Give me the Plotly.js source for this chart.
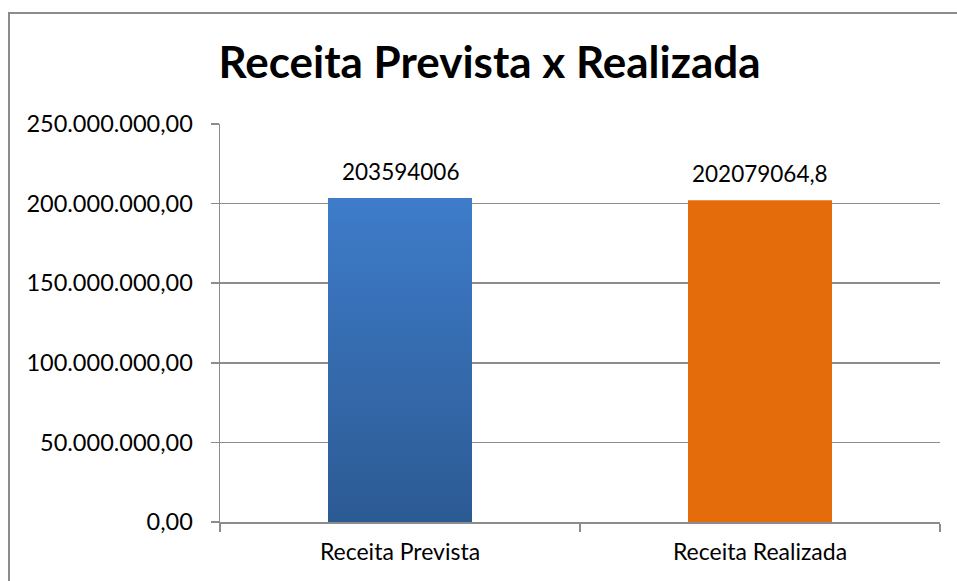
<!DOCTYPE html>
<html>
<head>
<meta charset="utf-8">
<script src="https://cdn.plot.ly/plotly-3.0.1.min.js"></script>
<style>
  html, body { margin: 0; padding: 0; background: #ffffff; }
  #chart { width: 957px; height: 581px; }
</style>
</head>
<body>
<div id="chart"></div>
<script>
// ---- Data ----
const categories = ["Receita Prevista", "Receita Realizada"];
const values = [203594006, 202079064.8];
const valueLabels = ["203594006", "202079064,8"];
const yTickValues = [0, 50000000, 100000000, 150000000, 200000000, 250000000];
const titleText = "Receita Prevista x Realizada";

// ---- Styles ----
const FONT = "Lato, 'Open Sans', sans-serif";
const GRID = "#8c8c8c";
const barColors = ["#3a74bd", "#e46c0a"];

const trace = {
  type: "bar",
  x: categories,
  y: values,
  marker: { color: barColors, line: { width: 0 } },
  width: 0.4,
  hoverinfo: "none",
  cliponaxis: false
};

const annotations = categories.map((c, i) => ({
  x: c, y: values[i], xref: "x", yref: "y",
  text: valueLabels[i], showarrow: false,
  yanchor: "bottom", yshift: 11,
  font: { family: FONT, size: 22.5, color: "#000000" }
}));

const layout = {
  width: 957, height: 581,
  margin: { l: 220, r: 17, t: 124, b: 59, pad: 0 },
  paper_bgcolor: "#ffffff",
  plot_bgcolor: "#ffffff",
  separators: ",.",
  showlegend: false,
  title: {
    text: titleText,
    font: { family: FONT, size: 44, color: "#000000", weight: "bold" },
    x: 489.5 / 957, xref: "container", xanchor: "center",
    y: 1 - 63 / 581, yref: "container", yanchor: "middle"
  },
  xaxis: {
    type: "category",
    showgrid: false,
    showline: true, linecolor: GRID, linewidth: 1.5,
    ticks: "outside", tickson: "boundaries", ticklen: 8, tickcolor: GRID, tickwidth: 1.5,
    ticklabelstandoff: 9,
    tickfont: { family: FONT, size: 23, color: "#000000" },
    fixedrange: true
  },
  yaxis: {
    range: [0, 250000000],
    tickvals: yTickValues,
    tickformat: ",.2f",
    showgrid: true, gridcolor: GRID, gridwidth: 1.5,
    showline: true, linecolor: GRID, linewidth: 1.5,
    zeroline: false,
    ticks: "outside", ticklen: 8, tickcolor: GRID, tickwidth: 1.5,
    ticklabelstandoff: 13,
    tickfont: { family: FONT, size: 23.5, color: "#000000" },
    fixedrange: true
  },
  annotations: annotations,
  shapes: [{
    type: "rect", xref: "paper", yref: "paper", layer: "below",
    x0: (9 - 220) / 720, x1: 1.2,
    y0: -0.3, y1: (522 - 13) / 398,
    line: { color: "#8c8c8c", width: 2 }, fillcolor: "rgba(0,0,0,0)"
  }]
};

Plotly.newPlot("chart", [trace], layout, { displayModeBar: false, staticPlot: true }).then(gd => {
  const ns = "http://www.w3.org/2000/svg";
  const svg = gd.querySelector("svg.main-svg");
  let defs = svg.querySelector("defs");
  if (!defs) { defs = document.createElementNS(ns, "defs"); svg.insertBefore(defs, svg.firstChild); }
  const lg = document.createElementNS(ns, "linearGradient");
  lg.setAttribute("id", "blueGrad");
  lg.setAttribute("x1", "0"); lg.setAttribute("y1", "0");
  lg.setAttribute("x2", "0"); lg.setAttribute("y2", "1");
  [["0", "#3e7cca"], ["1", "#2c5a93"]].forEach(([o, c]) => {
    const s = document.createElementNS(ns, "stop");
    s.setAttribute("offset", o); s.setAttribute("stop-color", c);
    lg.appendChild(s);
  });
  defs.appendChild(lg);
  const paths = gd.querySelectorAll(".barlayer .point path");
  if (paths[0]) paths[0].style.fill = "url(#blueGrad)";
});
</script>
</body>
</html>
